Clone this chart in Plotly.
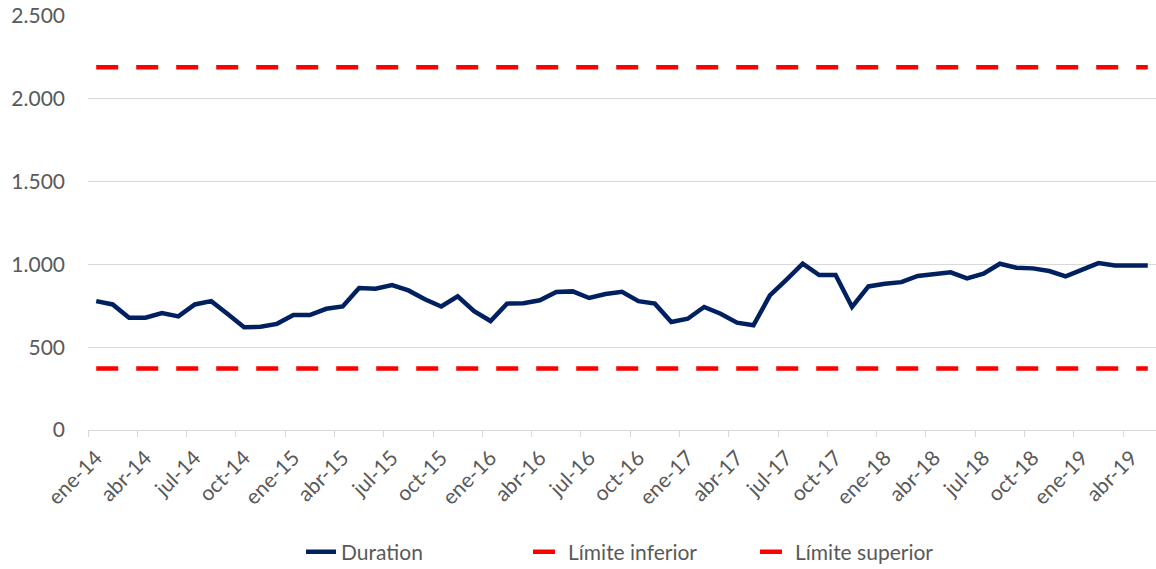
import plotly.graph_objects as go

months_es = ["ene", "feb", "mar", "abr", "may", "jun", "jul", "ago", "sep", "oct", "nov", "dic"]
categories = [f"{months_es[m]}-{y:02d}" for y in range(14, 20) for m in range(12)][:65]

duration = [778, 758, 678, 678, 706, 686, 758, 778, 700, 621,
             623, 641, 694, 694, 732, 746, 857, 853, 875, 843,
             789, 746, 807, 718, 658, 763, 766, 783, 833, 837,
             797, 821, 835, 778, 763, 652, 672, 743, 702, 648,
             632, 813, 907, 1004, 936, 936, 743, 867, 883, 893,
             930, 942, 952, 916, 944, 1004, 980, 976, 960, 928,
             968, 1008, 994, 994, 994]
limite_inferior = [372] * len(categories)
limite_superior = [2190] * len(categories)
y_ticks = [0, 500, 1000, 1500, 2000, 2500]

x_idx = list(range(len(categories)))
label_idx = x_idx[::3]
label_text = [categories[i] for i in label_idx]
boundary_ticks = [i - 0.5 for i in label_idx]

FONT = "Lato"
GREY = "#595959"
FS = 21
W, H = 1156, 569

fig = go.Figure()
fig.add_trace(go.Scatter(x=x_idx, y=duration, mode="lines", name="Duration",
                         line=dict(color="#002060", width=4.5), customdata=categories,
                         hovertemplate="%{customdata}: %{y}<extra></extra>"))
fig.add_trace(go.Scatter(x=x_idx, y=limite_inferior, mode="lines", name="Límite inferior",
                         line=dict(color="#FF0000", width=4.5, dash="22px,18px")))
fig.add_trace(go.Scatter(x=x_idx, y=limite_superior, mode="lines", name="Límite superior",
                         line=dict(color="#FF0000", width=4.5, dash="22px,18px")))

fig.update_layout(
    width=W, height=H,
    margin=dict(l=88, r=0, t=15, b=139),
    paper_bgcolor="white", plot_bgcolor="white",
    separators=",.",
    font=dict(family=FONT, size=FS, color=GREY),
    showlegend=True,
    legend=dict(orientation="h", xref="container", yref="container",
                x=301 / W, xanchor="left", y=1 - 552 / H, yanchor="middle",
                font=dict(family=FONT, size=FS, color=GREY),
                entrywidth=182, entrywidthmode="pixels", traceorder="normal"),
    xaxis=dict(range=[-0.5, len(categories) - 0.5], automargin=False,
               tickmode="array", tickvals=label_idx, ticktext=label_text,
               tickangle=-45, ticks="", showgrid=False, zeroline=False,
               showline=True, linecolor="#D9D9D9", linewidth=1.3,
               ticklabelstandoff=6, ticklabeloverflow="allow",
               tickfont=dict(family=FONT, size=FS, color=GREY),
               minor=dict(tickmode="array", tickvals=boundary_ticks, ticks="outside",
                          ticklen=6, tickcolor="#D9D9D9", tickwidth=1.3, showgrid=False)),
    yaxis=dict(range=[0, 2506], automargin=False, tickmode="array",
               tickvals=y_ticks,
               tickformat=",d", showgrid=True, gridcolor="#D9D9D9", gridwidth=1.3,
               zeroline=False, showline=False, ticks="", ticklabelstandoff=22,
               ticklabeloverflow="allow",
               tickfont=dict(family=FONT, size=FS, color=GREY)),
)

fig.write_html("out.html", config={"displayModeBar": False},
               post_script="document.body.style.margin='0';document.body.style.overflow='hidden';")
